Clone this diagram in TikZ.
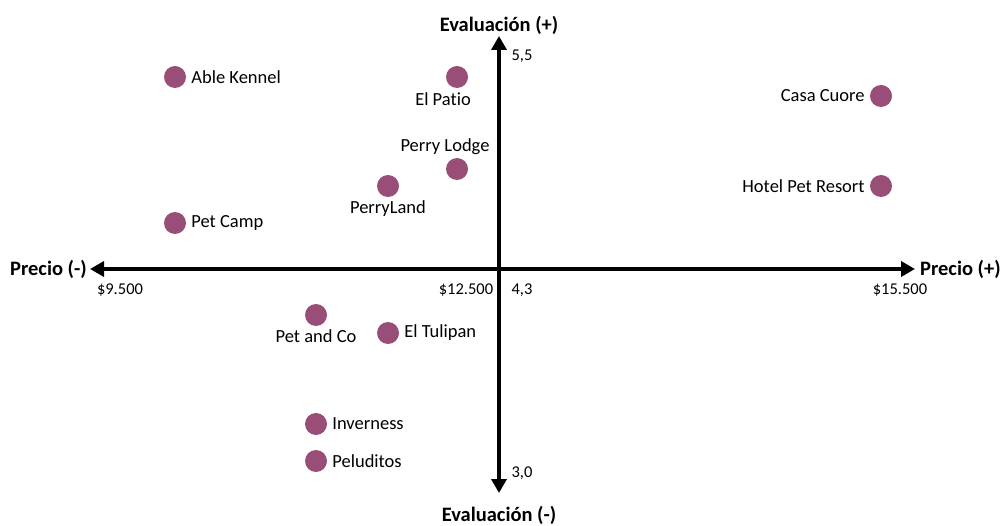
\documentclass[tikz,border=0pt]{standalone}
\usepackage{fontspec}
\setmainfont{Carlito}[Ligatures=NoCommon]
\usepackage{tikz}
\usetikzlibrary{arrows.meta,positioning}
\definecolor{mauve}{RGB}{152,78,118}

\begin{document}
\begin{tikzpicture}[x=1pt,y=-1pt, >={Triangle[length=14pt,width=15pt]},
    marca/.style={circle,fill=mauve,minimum size=22pt,inner sep=0pt},
    etiqueta/.style={font=\fontsize{18.5}{22}\selectfont,inner sep=1pt},
    escala/.style={font=\fontsize{16.5}{20}\selectfont,inner sep=1pt},
    eje/.style={font=\bfseries\fontsize{20.5}{24}\selectfont,inner sep=1pt},
    flecha/.style={->,line width=3.6pt}]
    \useasboundingbox (0,0) rectangle (1003,526);

    % ejes
    \coordinate (xneg) at (90,269);
    \coordinate (xpos) at (915,269);
    \coordinate (ypos) at (499,36);
    \coordinate (yneg) at (499,493);
    \coordinate (origen) at (499,269);
    \draw[flecha] (origen) -- (xneg);
    \draw[flecha] (origen) -- (xpos);
    \draw[flecha] (origen) -- (ypos);
    \draw[flecha] (origen) -- (yneg);

    \node[eje] (precioneg) [left=2pt of xneg]  {Precio (-)};
    \node[eje] (preciopos) [right=4pt of xpos] {Precio (+)};
    \node[eje] (evalpos)   [above=0pt of ypos] {Evaluación (+)};
    \node[eje] (evalneg)   [below=12pt of yneg] {Evaluación (-)};

    \node[escala] (p1) at (120,290) {\$9.500};
    \node[escala] (p2) at (466,290) {\$12.500};
    \node[escala] (p3) at (900,290) {\$15.500};
    \node[escala] (e1) at (522,290) {4,3};
    \node[escala] (e2) at (522,56)  {5,5};
    \node[escala] (e3) at (522,473) {3,0};

    % competidores
    \node[marca] (able)    at (175,77)  {};
    \node[marca] (patio)   at (457,77)  {};
    \node[marca] (casa)    at (881,96)  {};
    \node[marca] (lodge)   at (457,169) {};
    \node[marca] (land)    at (388,186) {};
    \node[marca] (hotel)   at (881,186) {};
    \node[marca] (camp)    at (175,223) {};
    \node[marca] (petco)   at (316,315) {};
    \node[marca] (tulipan) at (388,333) {};
    \node[marca] (inver)   at (316,424) {};
    \node[marca] (pelu)    at (316,461) {};

    \node[etiqueta] at (443,99)          {El Patio};
    \node[etiqueta] [right=4pt of able]  {Able Kennel};
    \node[etiqueta] [left=4pt of casa]   {Casa Cuore};
    \node[etiqueta] at (445,147)         {Perry Lodge};
    \node[etiqueta] [below=2pt of land]  {PerryLand};
    \node[etiqueta] [left=4pt of hotel]  {Hotel Pet Resort};
    \node[etiqueta] [right=4pt of camp]  {Pet Camp};
    \node[etiqueta] [below=2pt of petco] {Pet and Co};
    \node[etiqueta] [right=4pt of tulipan] {El Tulipan};
    \node[etiqueta] [right=4pt of inver] {Inverness};
    \node[etiqueta] [right=4pt of pelu]  {Peluditos};
\end{tikzpicture}
\end{document}
